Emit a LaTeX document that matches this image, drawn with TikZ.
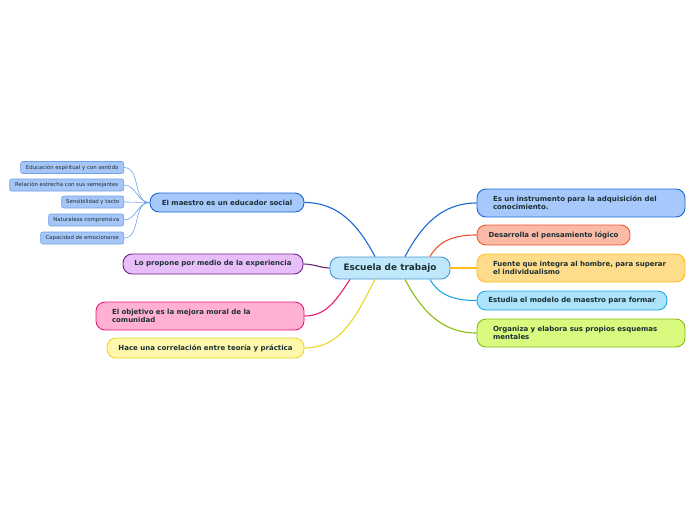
\documentclass[tikz,border=0pt]{standalone}
\usepackage{fontspec}
\newfontfamily\mapfont{DejaVu Sans}
\definecolor{mapText}{RGB}{28,48,52}
\definecolor{escFill}{RGB}{192,232,252}
\definecolor{escLine}{RGB}{70,150,210}
\definecolor{blueFill}{RGB}{166,200,250}
\definecolor{blueLine}{RGB}{26,104,214}
\definecolor{subFill}{RGB}{166,198,248}
\definecolor{subLine}{RGB}{112,160,232}
\definecolor{purpFill}{RGB}{232,190,250}
\definecolor{purpLine}{RGB}{108,36,128}
\definecolor{pinkFill}{RGB}{255,176,212}
\definecolor{pinkLine}{RGB}{238,26,118}
\definecolor{yellFill}{RGB}{255,248,172}
\definecolor{yellLine}{RGB}{238,212,40}
\definecolor{oranFill}{RGB}{250,186,166}
\definecolor{oranLine}{RGB}{240,86,46}
\definecolor{goldFill}{RGB}{255,220,140}
\definecolor{goldLine}{RGB}{255,188,24}
\definecolor{cyanFill}{RGB}{172,226,250}
\definecolor{cyanLine}{RGB}{28,168,230}
\definecolor{limeFill}{RGB}{216,250,126}
\definecolor{limeLine}{RGB}{138,188,18}
\usetikzlibrary{positioning}

\begin{document}
\begin{tikzpicture}[x=1pt, y=-1pt]
    \tikzset{
        topic/.style={draw, line width=0.9pt, rounded corners=9pt, text=mapText,
            font=\mapfont\bfseries\fontsize{7}{8}\selectfont, inner sep=0pt},
        topictwo/.style={topic, text width=176pt, align=left, inner xsep=16pt,
            minimum height=28pt},
        subtopic/.style={draw=subLine, fill=subFill, line width=0.6pt, rounded corners=2pt,
            text=mapText, font=\mapfont\fontsize{5.4}{6}\selectfont, inner sep=0pt,
            minimum height=12pt, anchor=east},
        branch/.style={line width=1.1pt},
        twig/.style={draw=subLine, line width=0.6pt},
    }
    \useasboundingbox (0,0) rectangle (696,520);

    % Central topic
    \node[topic, draw=escLine, fill=escFill, font=\mapfont\bfseries\fontsize{8.9}{10}\selectfont,
        minimum width=120pt, minimum height=22pt] (esc) at (390,268) {Escuela de trabajo};

    % Left side
    \node[topic, draw=blueLine, fill=blueFill, minimum width=154pt, minimum height=19pt]
        (maestro) at (227,202.5) {El maestro es un educador social};
    \node[topic, draw=purpLine, fill=purpFill, minimum width=180pt, minimum height=20pt]
        (propone) at (213,264) {Lo propone por medio de la experiencia};
    \node[topictwo, draw=pinkLine, fill=pinkFill]
        (objetivo) at (200,316) {El objetivo es la mejora moral de la\\comunidad};
    \node[topic, draw=yellLine, fill=yellFill, minimum width=197pt, minimum height=20pt]
        (hace) at (205.5,348) {Hace una correlación entre teoría y práctica};

    % Subtopics of the teacher
    \node[subtopic, minimum width=103pt] (educacion) at (124,167.5) {Educación espiritual y con sentido};
    \node[subtopic, minimum width=114pt] (relacion) at (124,185) {Relación estrecha con sus semejantes};
    \node[subtopic, minimum width=62pt] (sensib) at (124,202) {Sensibilidad y tacto};
    \node[subtopic, minimum width=75pt] (natural) at (124,220) {Naturaleza comprensiva};
    \node[subtopic, minimum width=83pt] (capacidad) at (124,238) {Capacidad de emocionarse};

    % Right side
    \node[topictwo, draw=blueLine, fill=blueFill]
        (instrum) at (581,203) {Es un instrumento para la adquisición del\\conocimiento.};
    \node[topic, draw=oranLine, fill=oranFill, minimum width=153pt, minimum height=20pt]
        (desarr) at (553.5,235) {Desarrolla el pensamiento lógico};
    \node[topictwo, draw=goldLine, fill=goldFill]
        (fuente) at (581,268) {Fuente que integra al hombre, para superar\\el individualismo};
    \node[topic, draw=cyanLine, fill=cyanFill, minimum width=190pt, minimum height=19pt]
        (estudia) at (572,300.5) {Estudia el modelo de maestro para formar};
    \node[topictwo, draw=limeLine, fill=limeFill]
        (organiza) at (581,333) {Organiza y elabora sus propios esquemas\\mentales};

    % Branches, left
    \draw[branch, blueLine] ([xshift=-15pt]esc.north) to[out=118, in=0] (maestro.east);
    \draw[branch, purpLine] (esc.west) to[out=178, in=0] (propone.east);
    \draw[branch, pinkLine] ([xshift=-40pt]esc.south) to[out=236, in=0] (objetivo.east);
    \draw[branch, yellLine] ([xshift=-15pt]esc.south) to[out=242, in=0] (hace.east);

    % Twigs
    \foreach \s in {educacion, relacion, sensib, natural, capacidad}
        \draw[twig] (\s.east) to[out=0, in=180] (maestro.west);

    % Branches, right
    \draw[branch, blueLine] ([xshift=15pt]esc.north) to[out=62, in=180] (instrum.west);
    \draw[branch, oranLine] ([xshift=40pt]esc.north) to[out=60, in=180] (desarr.west);
    \draw[branch, goldLine] (esc.east) -- (fuente.west);
    \draw[branch, cyanLine] ([xshift=40pt]esc.south) to[out=-60, in=180] (estudia.west);
    \draw[branch, limeLine] ([xshift=15pt]esc.south) to[out=-62, in=180] (organiza.west);
\end{tikzpicture}
\end{document}
